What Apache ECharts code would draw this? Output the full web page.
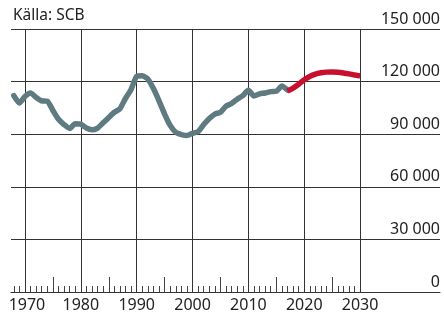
<!DOCTYPE html>
<html><head><meta charset="utf-8">
<script src="https://cdn.jsdelivr.net/npm/echarts@6/dist/echarts.min.js"></script>
<style>html,body{margin:0;padding:0;background:#fff}#c{width:444px;height:322px}</style>
</head><body><div id="c"></div>
<script>
const sourceText = 'Källa: SCB';
const histYears = [1968,1969,1970,1971,1972,1973,1974,1975,1976,1977,1978,1979,1980,1981,1982,1983,1984,1985,1986,1987,1988,1989,1990,1991,1992,1993,1994,1995,1996,1997,1998,1999,2000,2001,2002,2003,2004,2005,2006,2007,2008,2009,2010,2011,2012,2013,2014,2015,2016,2017];
const histValues = [112000,107800,111500,113500,111000,109000,108800,103500,98500,95500,93300,96000,95800,93500,92500,93500,96500,99500,102500,104500,110500,115500,123000,123300,121500,116000,109000,101500,95000,91000,89800,89200,90500,91500,95500,99000,101500,102500,106000,107500,110000,112000,115000,111800,113000,113500,114300,114500,117500,115200];
const forecastYears = [2017,2018,2019,2020,2021,2022,2023,2024,2025,2026,2027,2028,2029,2030];
const forecastValues = [114600,116300,118500,121000,123000,124300,125000,125400,125500,125300,124900,124400,123800,123200];
const decadeTicks = [1970,1980,1990,2000,2010,2020,2030];
const halfDecadeTicks = [1975,1985,1995,2005,2015,2025];
const yearTicks = [1968,1969,1971,1972,1973,1974,1976,1977,1978,1979,1981,1982,1983,1984,1986,1987,1988,1989,1991,1992,1993,1994,1996,1997,1998,1999,2001,2002,2003,2004,2006,2007,2008,2009,2011,2012,2013,2014,2016,2017,2018,2019,2021,2022,2023,2024,2026,2027,2028,2029];
const yTicks = [0,30000,60000,90000,120000,150000];

const FONT = 'Noto Sans';
const xMin = 1967.5, xMax = 2044.3;
function fmt(v){ return String(v).replace(/\B(?=(\d{3})+(?!\d))/g,' '); }

const chart = echarts.init(document.getElementById('c'));
chart.setOption({
  animation:false,
  backgroundColor:'#fff',
  graphic:[{type:'text', left:13, top:8, style:{text:sourceText, font:'15.5px "Noto Sans"', fill:'#222'}}],
  grid:{left:11, right:4, top:29, bottom:30},
  xAxis:[
    {type:'value', min:xMin, max:xMax, position:'bottom',
     axisLine:{show:true, lineStyle:{color:'#333', width:1}},
     axisTick:{show:false, customValues:decadeTicks},
     axisLabel:{customValues:decadeTicks, margin:5, color:'#222', fontFamily:FONT, fontSize:16,
       formatter:v=> v===decadeTicks[0] ? '{f|'+v+'}' : String(v),
       rich:{f:{padding:[0,0,0,4], color:'#222', fontFamily:FONT, fontSize:16}}},
     splitLine:{show:true, lineStyle:{color:'#333', width:1}}},
    {type:'value', min:xMin, max:xMax, position:'bottom',
     axisLine:{show:false},
     axisTick:{show:true, inside:true, length:6, customValues:yearTicks, lineStyle:{color:'#444'}},
     axisLabel:{show:false}, splitLine:{show:false}},
    {type:'value', min:xMin, max:xMax, position:'bottom',
     axisLine:{show:false},
     axisTick:{show:true, inside:true, length:15, customValues:halfDecadeTicks, lineStyle:{color:'#444'}},
     axisLabel:{show:false}, splitLine:{show:false}}
  ],
  yAxis:{type:'value', min:0, max:150000, interval:30000, position:'right',
    axisLine:{show:false}, axisTick:{show:false},
    axisLabel:{inside:true, margin:0, verticalAlign:'bottom', padding:[0,0,2,0], color:'#222', fontFamily:FONT, fontSize:16, formatter:fmt},
    splitLine:{show:true, lineStyle:{color:'#333', width:1}}},
  series:[
    {type:'line', xAxisIndex:0, data:histYears.map((y,i)=>[y,histValues[i]]), showSymbol:false, smooth:0.2,
     lineStyle:{color:'#5f7a80', width:5.5, cap:'round', join:'round'}},
    {type:'line', xAxisIndex:0, data:forecastYears.map((y,i)=>[y,forecastValues[i]]), showSymbol:false, smooth:0.3,
     lineStyle:{color:'#c8102e', width:5.5, cap:'butt', join:'round'}}
  ]
});
</script></body></html>
